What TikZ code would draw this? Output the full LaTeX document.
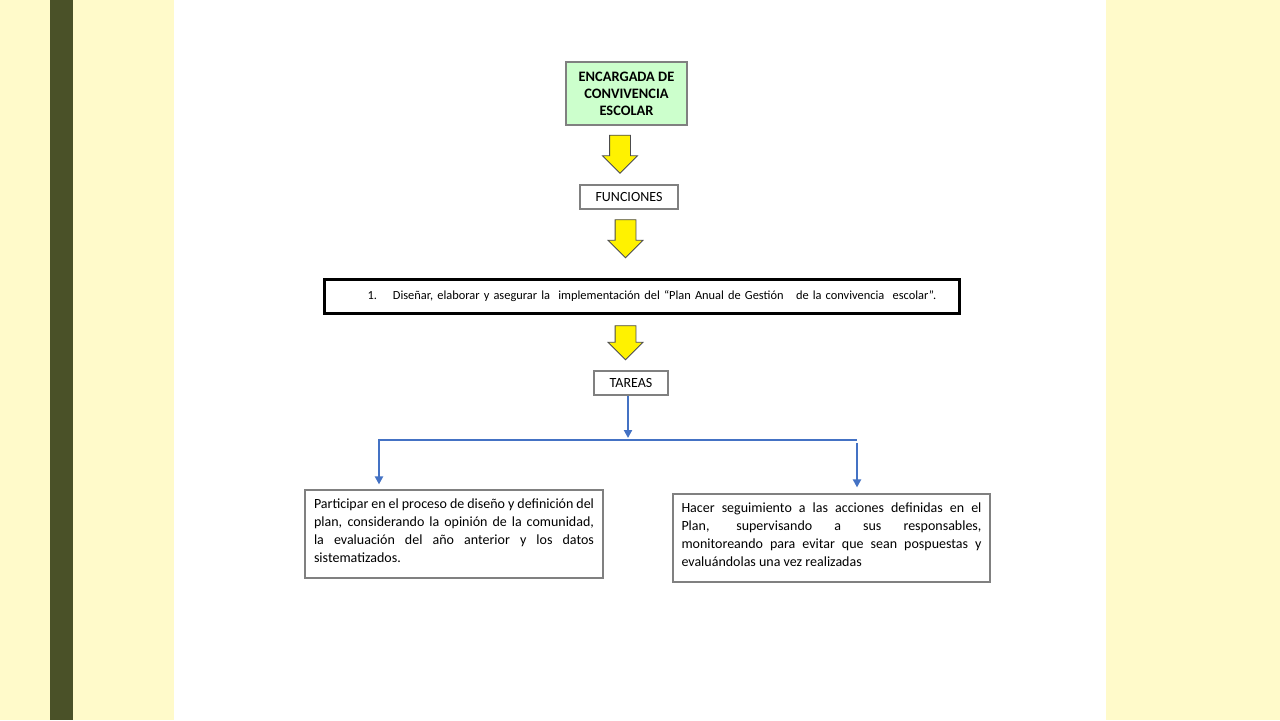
\documentclass[tikz,border=0pt]{standalone}
\usepackage{fontspec}
\setmainfont{Carlito}
\usetikzlibrary{arrows.meta,shapes.arrows}
\definecolor{slidecream}{RGB}{255,250,202}
\definecolor{slideolive}{RGB}{74,81,40}
\definecolor{boxgreen}{RGB}{204,255,204}
\definecolor{boxgray}{RGB}{128,128,128}
\definecolor{flowblue}{RGB}{68,114,196}

\begin{document}
\begin{tikzpicture}[x=0.5pt, y=-0.5pt, box/.style={draw=boxgray, line width=0.6pt, align=center, font=\fontsize{7}{8.5}\selectfont, inner sep=0pt, fill=white}, tbox/.style={box, align=justify, font=\fontsize{7}{9}\selectfont, minimum height=44pt}, yarrow/.style={single arrow, draw=black!70, line width=0.4pt, fill=yellow, rotate=-90, minimum width=17pt, minimum height=19pt, inner sep=0pt, inner ysep=5pt, single arrow head extend=3.5pt}, flow/.style={-{Triangle[width=4pt,length=4pt]}, line width=1.25pt, flowblue}, link/.style={line width=1.25pt, flowblue}]
% slide background
\fill[slidecream] (0,0) rectangle (1280,720);
\fill[slideolive] (50,0) rectangle (73,720);
\fill[white] (174,0) rectangle (1106,720);
% boxes
\node[box, fill=boxgreen, font=\fontsize{7.2}{8.5}\selectfont\bfseries, minimum width=60.5pt, minimum height=31.5pt] (enc) at (626.5,93.5) {ENCARGADA DE\\CONVIVENCIA\\ESCOLAR};
\node[yarrow] (a1) at (620,149) {};
\node[box, minimum width=49pt, minimum height=12pt] (fun) at (629,197) {FUNCIONES};
\node[yarrow] (a2) at (625.5,233.5) {};
\node[box, draw=black, line width=1.5pt, minimum width=317.5pt, minimum height=17pt, text width=300pt, align=left, font=\fontsize{6.2}{7}\selectfont] (plan) at (641.5,296) {\hspace*{13pt}1.\hspace{8pt}Diseñar, elaborar y asegurar la\ \ implementación del “Plan Anual de Gestión\ \ \ de la convivencia\ \ escolar”.\vphantom{g}\raisebox{2pt}{}};
\node[yarrow, minimum height=17pt] (a3) at (625.5,337.5) {};
\node[box, minimum width=37pt, minimum height=12pt] (tar) at (631,383) {TAREAS};
\node[tbox, minimum width=149pt, text width=140pt] (part) at (454,534) {Participar en el proceso de diseño y definición del\linebreak plan, considerando la opinión de la comunidad,\linebreak la evaluación del año anterior y los datos\linebreak sistematizados.\vphantom{g}\rule[-3pt]{0pt}{0pt}};
\node[tbox, minimum width=158.5pt, text width=150pt] (seg) at (831.5,538) {Hacer seguimiento a las acciones definidas en el\linebreak Plan, supervisando a sus responsables,\linebreak monitoreando para evitar que sean pospuestas y\linebreak evaluándolas una vez realizadas\vphantom{g}\rule[-3pt]{0pt}{0pt}};
% connectors
\coordinate (barL) at (379,440);
\coordinate (barM) at (628,440);
\coordinate (barR) at (857,440);
\draw[flow] (tar.south -| barM) -- ([yshift=1pt]barM);
\draw[link] (barL) -- (barR);
\draw[flow, shorten >=2.5pt] ([yshift=0.6pt]barL) -- (part.north -| barL);
\draw[flow, shorten >=3pt] ([yshift=-1.5pt]barR) -- (seg.north -| barR);
\end{tikzpicture}
\end{document}
